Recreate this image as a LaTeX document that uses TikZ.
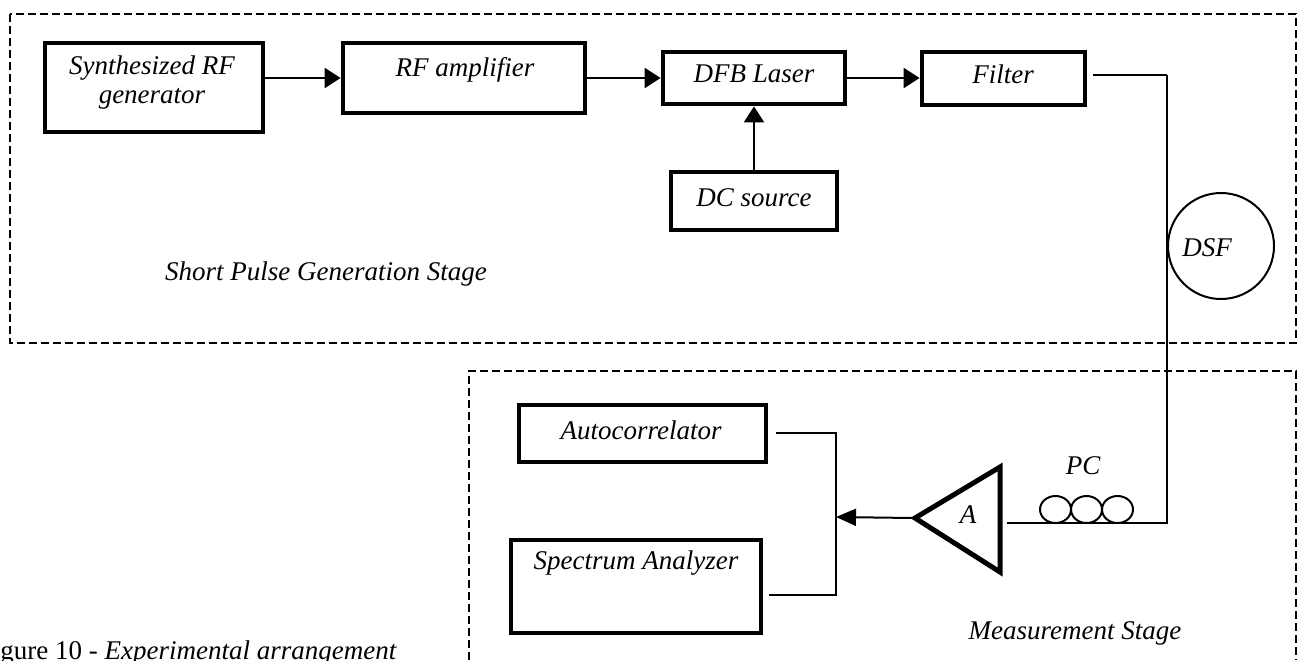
\documentclass[tikz,border=0pt]{standalone}
\usepackage{fontspec}
\setmainfont{Liberation Serif}
\usetikzlibrary{arrows.meta,shapes.geometric}
\begin{document}
\begin{tikzpicture}[x=0.5pt,y=-0.5pt,
  box/.style={draw,line width=2.4pt,inner sep=0pt},
  lbl/.style={inner sep=0pt,font=\fontsize{13.5}{14.5}\selectfont\itshape},
  conn/.style={line width=1.2pt},
  thinconn/.style={line width=1pt},
  arr/.style={line width=1.2pt,-{Triangle[length=8pt,width=10pt]}},
  stagebox/.style={line width=1pt,dash pattern=on 4pt off 2pt},
  coil/.style={draw,ellipse,line width=1pt,minimum width=15.5pt,minimum height=13.5pt,inner sep=0pt},
]
\useasboundingbox (0,0) rectangle (1301,660);

% stage frames
\draw[stagebox] (10,14) rectangle (1296,343);
\draw[stagebox] (469,660) -- (469,371) -- (1296,371) -- (1296,660);

% top row boxes
\node[box,minimum width=109pt,minimum height=44.5pt] (synth) at (154,87.5) {};
\node[lbl,align=center] (synth-t) at (152,82) {Synthesized RF\\generator};
\node[box,minimum width=121pt,minimum height=35pt] (rfa) at (464,78) {};
\node[lbl] (rfa-t) at (465,70) {RF amplifier};
\node[box,minimum width=91pt,minimum height=26pt] (dfb) at (754,78) {};
\node[lbl] (dfb-t) at (754,74) {DFB Laser};
\node[box,minimum width=81.5pt,minimum height=26.5pt] (filter) at (1003.5,78.5) {};
\node[lbl] (filter-t) at (1003,74) {Filter};
\node[box,minimum width=83pt,minimum height=29pt] (dc) at (754,201) {};
\node[lbl] (dc-t) at (754,198) {DC source};

\node[lbl] (stage1) at (326,274) {Short Pulse Generation Stage};

% DSF fibre spool
\node[draw,circle,line width=1pt,minimum size=53pt,inner sep=0pt] (dsf) at (1221,246) {};
\node[lbl] (dsf-t) at (1207,248) {DSF};

% top connectors
\draw[arr] (synth.east |- rfa.west) -- (rfa.west);
\draw[arr] (rfa.east) -- (dfb.west);
\draw[arr] (dfb.east) -- (filter.west |- dfb.east);
\draw[arr] (dc.north) -- (dfb.south);

\coordinate (fc1) at (1167,75);
\coordinate (fc2) at (1167,523);
\coordinate (pcl) at (1007,523);
\draw[conn] ([xshift=3pt]filter.east |- fc1) -- (fc1);
\draw[thinconn] (fc1) -- (fc2) -- (pcl);

% polarisation controller
\node[coil] (c1) at (1055.5,509.5) {};
\node[coil] (c2) at (1086.5,509.5) {};
\node[coil] (c3) at (1117.5,509.5) {};
\node[lbl] (pc-t) at (1083,466) {PC};

% amplifier
\coordinate (tip) at (915,518);
\draw[line width=2.5pt,line join=miter] (1000,467) -- (tip) -- (1000,572) -- cycle;
\node[lbl] (amp-t) at (968,515) {A};

% measurement boxes
\node[box,minimum width=123.5pt,minimum height=28.5pt] (auto) at (642.5,433.5) {};
\node[lbl] (auto-t) at (641,430) {Autocorrelator};
\node[box,minimum width=125pt,minimum height=46.5pt] (spec) at (636,586.5) {};
\node[lbl] (spec-t) at (636,563) {Spectrum Analyzer};

\coordinate (ja) at (836,433);
\coordinate (jm) at (836,517);
\coordinate (js) at (836,595);
\draw[thinconn] ([xshift=4pt]auto.east |- ja) -- (ja) -- (js) -- ([xshift=3pt]spec.east |- js);
\draw[thinconn,-{Triangle[length=10pt,width=8.5pt]}] ([xshift=-1pt]tip) -- (jm);

\node[lbl] (stage2) at (1075,633) {Measurement Stage};

% caption (cut at the page edge)
\node[anchor=base west,inner sep=0pt,font=\fontsize{13.5}{14.5}\selectfont] (cap) at (0,659) {gure 10 - \textit{Experimental arrangement}};
\end{tikzpicture}
\end{document}
